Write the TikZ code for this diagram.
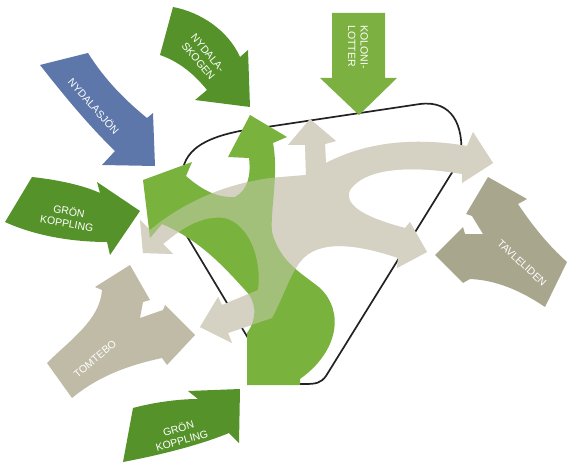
\documentclass[tikz,border=0pt]{standalone}
\usepackage{fontspec}
\setmainfont{Liberation Sans}
\definecolor{sjoblue}{HTML}{5E77AA}
\definecolor{darkgreen}{HTML}{55932A}
\definecolor{kologreen}{HTML}{7CB040}
\definecolor{midgreen}{HTML}{79B23D}
\definecolor{pale}{HTML}{D5D2C3}
\definecolor{tomtecol}{HTML}{BFBBA6}
\definecolor{tavlecol}{HTML}{A9A68E}
\definecolor{linecol}{HTML}{222222}

\begin{document}
\begin{tikzpicture}[x=1pt, y=-1pt,
  lbl/.style={text=white, font=\fontsize{10.5}{12.5}\selectfont, align=center, inner sep=0pt},
  arealine/.style={line width=1.7pt, linecol}]
  \useasboundingbox (0,0) rectangle (567,465);

  % pale central flows (used twice: solid, then as a veil over the green)
  \def\core{(310,119) -- (336,141) -- (325,144) -- (326,163)
    .. controls (370,140) and (420,138) .. (467,146) -- (473,132) -- (493,163) -- (462,183) -- (462,174)
    .. controls (410,165) and (365,168) .. (350,190)
    .. controls (342,208) and (375,220) .. (405,228) -- (410,222) -- (427,252) -- (397,268) -- (398,258)
    .. controls (360,245) and (318,238) .. (300,262)
    .. controls (290,275) and (282,300) .. (272,318)
    -- (228,333) -- (232,343) -- (200,327) -- (218,297) -- (222,305) -- (258,290)
    .. controls (262,260) and (250,225) .. (225,218)
    .. controls (200,215) and (180,230) .. (163,244)
    -- (173,254) -- (143,253) -- (140,220) -- (150,230)
    .. controls (180,205) and (220,185) .. (270,178)
    -- (306,175) -- (305,145) -- (288,145) -- cycle}

  % area boundary (behind everything)
  \draw[arealine] (276,384) -- (248,338) -- (185,233) -- (182,178)
    .. controls (182,150) and (205,138) .. (240,131) -- (420,104)
    .. controls (452,100) and (464,125) .. (461,158) -- (326,376)
    .. controls (321,383) and (316,384) .. (305,384) -- cycle;

  % neighbouring districts
  \fill[tomtecol] (47,363) .. controls (70,340) and (100,320) .. (102,290) -- (95,287) -- (130,265)
    -- (150,300) -- (143,302) -- (140,318) -- (163,310) -- (165,305) -- (195,335) -- (167,365) -- (162,358)
    .. controls (130,365) and (100,375) .. (72,398) -- cycle;
  \fill[tavlecol] (488,177) -- (527,199) -- (518,204) .. controls (532,225) and (548,245) .. (567,262)
    -- (545,307) .. controls (520,290) and (495,280) .. (470,279) -- (463,283) -- (435,255) -- (463,227)
    -- (465,234) -- (483,234) -- (472,216) -- (466,214) -- cycle;

  % central flows
  \fill[pale] \core;
  \fill[midgreen] (143,180) -- (192,162) -- (186,176)
    .. controls (200,188) and (215,198) .. (235,197)
    .. controls (248,190) and (251,175) .. (249,158) -- (228,157) -- (250,115) -- (287,137) -- (273,143)
    .. controls (279,175) and (270,210) .. (272,232)
    .. controls (280,262) and (300,272) .. (320,288)
    .. controls (345,312) and (338,352) .. (300,379) -- (300,385) -- (247,385) -- (247,333)
    .. controls (258,318) and (256,300) .. (245,290)
    .. controls (225,268) and (200,240) .. (162,224) -- (150,238) -- cycle;
  \fill[pale, opacity=.45] \core;

  % incoming links
  \fill[sjoblue] (40,65) .. controls (62,93) and (88,125) .. (115,151) -- (102,165) -- (155,166)
    -- (153,113) -- (147,118) .. controls (125,100) and (105,80) .. (88,53) -- cycle;
  \fill[darkgreen] (173,7) .. controls (200,12) and (228,30) .. (240,57) -- (248,50) -- (250,107)
    -- (195,100) -- (207,90) .. controls (195,75) and (180,62) .. (160,55) -- cycle;
  \fill[kologreen] (332,13) -- (385,13) -- (385,78) -- (397,78) -- (359,115) -- (320,78) -- (332,78) -- cycle;
  \fill[darkgreen] (32,177) .. controls (60,180) and (85,186) .. (100,193) -- (97,182) -- (140,211)
    -- (110,255) -- (107,242) .. controls (80,242) and (40,238) .. (5,222) -- cycle;
  \fill[darkgreen] (133,408) .. controls (155,402) and (180,399) .. (198,399) -- (188,391) -- (240,389)
    -- (239,443) -- (229,433) .. controls (200,445) and (160,455) .. (123,462) -- cycle;

  % labels
  \node[lbl, rotate=-48] (sjon) at (94,106) {NYDALASJÖN};
  \node[lbl, rotate=-50] (skogen) at (203,57) {NYDALA-\\SKOGEN};
  \node[lbl, rotate=-90, align=left] (koloni) at (358,47) {KOLONI-\\LOTTER};
  \node[lbl, rotate=-10] (gronN) at (68,217) {GRÖN\\KOPPLING};
  \node[lbl, rotate=16] (gronS) at (180,434) {GRÖN\\KOPPLING};
  \node[lbl, rotate=40] (tomtebo) at (95,359) {TOMTEBO};
  \node[lbl, rotate=-43] (tavle) at (522,263) {TAVLELIDEN};
\end{tikzpicture}
\end{document}
